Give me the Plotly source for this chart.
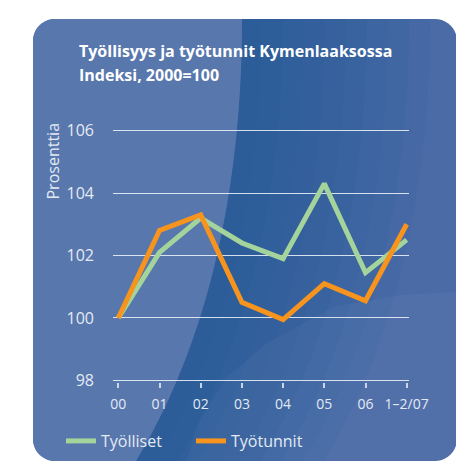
import math
import plotly.graph_objects as go

# ---- data ----
periods = ["00", "01", "02", "03", "04", "05", "06", "1–2/07"]
tyolliset = [100.0, 102.1, 103.2, 102.4, 101.9, 104.3, 101.45, 102.5]
tyotunnit = [100.0, 102.8, 103.3, 100.5, 99.95, 101.1, 100.55, 103.0]
y_ticks = [98, 100, 102, 104, 106]

title_line1 = "Työllisyys ja työtunnit Kymenlaaksossa"
title_line2 = "Indeksi, 2000=100"
y_title = "Prosenttia"

# ---- geometry helpers (background decoration only); coordinates given in page pixels ----
OFF = 8                      # default body margin of the page
W, H = 456, 453              # figure size so it fits the 464x461 window
ML, MR, MT, MB = 105, 55, 121, 79
PW, PH = W - ML - MR, H - MT - MB


def fx(x):
    return (x - OFF - ML) / PW


def fy(y):
    return (H - MB - (y - OFF)) / PH


def to_path(pts):
    return "M " + " L ".join(f"{fx(x):.4f},{fy(y):.4f}" for x, y in pts) + " Z"


def arc(cx, cy, r, a0, a1, n=10):
    return [(cx + r * math.cos(math.radians(a0 + (a1 - a0) * i / n)),
             cy + r * math.sin(math.radians(a0 + (a1 - a0) * i / n))) for i in range(n + 1)]


X0, Y0, X1, Y1, R = 33, 19, 457, 461, 22
panel = (arc(X1 - R, Y0 + R, R, -90, 0) + arc(X1 - R, Y1 - R, R, 0, 90)
         + arc(X0 + R, Y1 - R, R, 90, 180) + arc(X0 + R, Y0 + R, R, 180, 270))

P = [(242, 19), (242, 170), (215, 330), (136, 461)]


def bez(t):
    a, b, c, d = (1 - t) ** 3, 3 * (1 - t) ** 2 * t, 3 * (1 - t) * t * t, t ** 3
    return (a * P[0][0] + b * P[1][0] + c * P[2][0] + d * P[3][0],
            a * P[0][1] + b * P[1][1] + c * P[2][1] + d * P[3][1])


curve = [bez(i / 40) for i in range(41)]
left_region = curve + arc(X0 + R, Y1 - R, R, 90, 180) + arc(X0 + R, Y0 + R, R, 180, 270)

shapes = [dict(type="path", path=to_path(panel), xref="paper", yref="paper",
               fillcolor="#4b6ba7", line=dict(width=0), layer="below")]
for k in range(9):
    d = 20 + k * 21
    band = curve + [(x + d, y) for x, y in reversed(curve)]
    shapes.append(dict(type="path", path=to_path(band), xref="paper", yref="paper",
                       fillcolor="#1e5696", opacity=0.1, line=dict(width=0), layer="below"))
shapes.append(dict(type="path", path=to_path(left_region), xref="paper", yref="paper",
                   fillcolor="#5877ad", line=dict(width=0), layer="below"))
br = [(457, 292), (400, 295), (333, 307), (267, 343), (227, 377), (200, 420), (186, 461)] \
    + arc(X1 - R, Y1 - R, R, 90, 0) + [(457, 292)]
shapes.append(dict(type="path", path=to_path(br), xref="paper", yref="paper",
                   fillcolor="white", opacity=0.035, line=dict(width=0), layer="below"))

TXT = "#e4eaf4"
FONT = "Open Sans"

fig = go.Figure()
fig.add_trace(go.Scatter(x=periods, y=tyolliset, mode="lines", name="Työlliset",
                         line=dict(color="#a4d49b", width=5)))
fig.add_trace(go.Scatter(x=periods, y=tyotunnit, mode="lines", name="Työtunnit",
                         line=dict(color="#f7941d", width=5)))

fig.update_layout(
    width=W, height=H,
    margin=dict(l=ML, r=MR, t=MT, b=MB, autoexpand=False),
    paper_bgcolor="white", plot_bgcolor="rgba(0,0,0,0)",
    font=dict(family=FONT, color=TXT),
    shapes=shapes,
    showlegend=True,
    legend=dict(orientation="h", x=fx(61), xanchor="left", y=fy(441), yanchor="middle",
                font=dict(size=16, color=TXT), bgcolor="rgba(0,0,0,0)",
                itemwidth=30, entrywidth=85, entrywidthmode="pixels"),
    xaxis=dict(type="category", range=[-0.129, 7.056], showgrid=False, zeroline=False,
               showline=False, ticks="outside", ticklen=5, tickwidth=1.5,
               tickcolor="rgba(225,232,244,0.85)", tickfont=dict(size=14, color=TXT),
               ticklabelstandoff=4, fixedrange=True, automargin=False),
    yaxis=dict(range=[97.95, 106.05], tickvals=y_ticks, showgrid=True,
               gridcolor="rgba(232,238,248,0.9)", gridwidth=1.3, zeroline=False,
               showline=False, ticks="", ticklabelstandoff=18,
               tickfont=dict(size=16, color=TXT), fixedrange=True, automargin=False),
    annotations=[
        dict(text=title_line1, x=fx(77), y=fy(51), xref="paper", yref="paper",
             xanchor="left", yanchor="middle", showarrow=False,
             font=dict(size=16, color="white", family=FONT, weight=700)),
        dict(text=title_line2, x=fx(77), y=fy(75), xref="paper", yref="paper",
             xanchor="left", yanchor="middle", showarrow=False,
             font=dict(size=16, color="white", family=FONT, weight=700)),
        dict(text=y_title, x=fx(52), y=fy(161.5), xref="paper", yref="paper",
             xanchor="center", yanchor="middle", showarrow=False, textangle=-90,
             font=dict(size=16, color=TXT, family=FONT)),
    ],
)

fig.write_html("out.html")
